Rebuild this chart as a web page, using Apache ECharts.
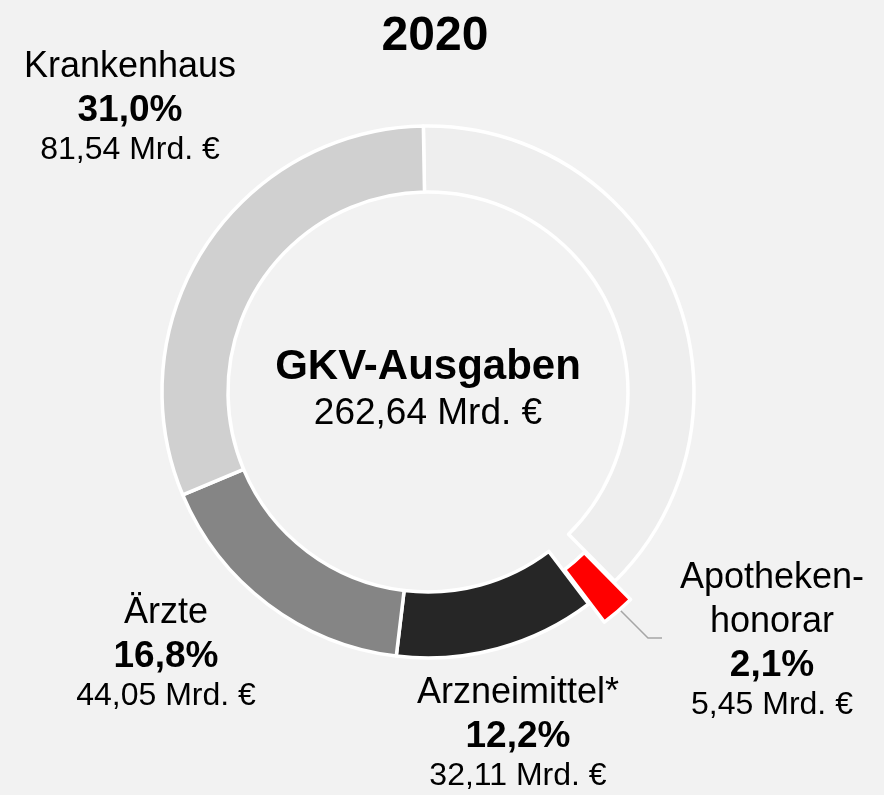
<!DOCTYPE html>
<html>
<head>
<meta charset="utf-8">
<script src="https://cdn.jsdelivr.net/npm/echarts@6/dist/echarts.min.js"></script>
<style>
  html, body { margin: 0; padding: 0; background: #f2f2f2; }
  #chart { width: 884px; height: 795px; }
</style>
</head>
<body>
<div id="chart"></div>
<script>
// GKV-Ausgaben 2020, Mrd. Euro
const categories = ['Sonstige', 'Apothekenhonorar', 'Arzneimittel*', 'Ärzte', 'Krankenhaus'];
const labelNames = ['', 'Apotheken-\nhonorar', 'Arzneimittel*', 'Ärzte', 'Krankenhaus'];
const amounts = [99.49, 5.45, 32.11, 44.05, 81.54];
const shares = ['', '2,1%', '12,2%', '16,8%', '31,0%'];
const amountLabels = ['', '5,45 Mrd. €', '32,11 Mrd. €', '44,05 Mrd. €', '81,54 Mrd. €'];
const totalLabel = '262,64 Mrd. €';
const year = '2020';

const colors = ['#eeeeee', '#ff0000', '#262626', '#858585', '#d0d0d0'];
const highlight = 1; // exploded slice

const cx = 428, cy = 392, rIn = 200, rOut = 266, startAngle = 91, explode = 24;

// label block positions (x = centre, y = top)
const labelPos = [null, [772, 556], [518, 671], [166, 591], [130, 45]];

// mid angle of a slice, from the data
function midAngle(i) {
  const total = amounts.reduce((a, b) => a + b, 0);
  let before = 0;
  for (let k = 0; k < i; k++) before += amounts[k];
  const deg = startAngle - (before + amounts[i] / 2) / total * 360;
  return deg * Math.PI / 180;
}

const font = "'Liberation Sans', Arial, sans-serif";
const hidden = { color: 'rgba(0,0,0,0)', borderWidth: 0 };

const labelOpt = {
  position: 'outside',
  color: '#000',
  fontFamily: font,
  formatter: p => '{n|' + labelNames[p.dataIndex].split('\n').join('}\n{n|') + '}\n{p|' +
    shares[p.dataIndex] + '}\n{v|' + amountLabels[p.dataIndex] + '}',
  rich: {
    n: { fontFamily: font, fontSize: 36, lineHeight: 44, color: '#000', align: 'center' },
    p: { fontFamily: font, fontSize: 37, fontWeight: 'bold', lineHeight: 43, color: '#000', align: 'center' },
    v: { fontFamily: font, fontSize: 32, lineHeight: 37, color: '#000', align: 'center' }
  }
};

function layoutLabel(params) {
  const pos = labelPos[params.dataIndex];
  if (!pos) return {};
  const out = { x: pos[0], y: pos[1], align: 'center', verticalAlign: 'top' };
  if (params.dataIndex === highlight) {
    const a = midAngle(highlight);
    const r = (rIn + rOut) / 2 + explode;
    out.labelLinePoints = [[cx + Math.cos(a) * r, cy - Math.sin(a) * r], [648, 638], [662, 638]];
  }
  return out;
}

// ring without the exploded slice
const ringData = categories.map((c, i) => ({
  name: c,
  value: amounts[i],
  itemStyle: i === highlight ? hidden : { color: colors[i] },
  label: { show: i !== 0 && i !== highlight },
  labelLine: { show: false }
}));

// exploded slice only
const explodeData = categories.map((c, i) => ({
  name: c,
  value: amounts[i],
  itemStyle: i === highlight ? { color: colors[i] } : hidden,
  label: { show: i === highlight },
  labelLine: { show: i === highlight }
}));

const ma = midAngle(highlight);

const chart = echarts.init(document.getElementById('chart'));
chart.setOption({
  backgroundColor: '#f2f2f2',
  animation: false,
  title: {
    text: year,
    left: 430,
    top: 8,
    textAlign: 'center',
    textStyle: { fontFamily: font, fontSize: 48, fontWeight: 'bold', color: '#000' }
  },
  graphic: [
    {
      type: 'text',
      style: {
        x: cx, y: 367, text: 'GKV-Ausgaben', align: 'center', verticalAlign: 'middle',
        font: 'bold 42px ' + font, fill: '#000'
      }
    },
    {
      type: 'text',
      style: {
        x: cx, y: 414, text: totalLabel, align: 'center', verticalAlign: 'middle',
        font: '37px ' + font, fill: '#000'
      }
    }
  ],
  series: [
    {
      type: 'pie',
      center: [cx, cy],
      radius: [rIn, rOut],
      startAngle: startAngle,
      clockwise: true,
      avoidLabelOverlap: false,
      emphasis: { disabled: true },
      itemStyle: { borderColor: '#ffffff', borderWidth: 3.5 },
      label: labelOpt,
      labelLayout: layoutLabel,
      data: ringData
    },
    {
      type: 'pie',
      center: [cx + Math.cos(ma) * explode, cy - Math.sin(ma) * explode],
      radius: [rIn, rOut],
      startAngle: startAngle,
      clockwise: true,
      avoidLabelOverlap: false,
      silent: true,
      emphasis: { disabled: true },
      itemStyle: { borderColor: '#ffffff', borderWidth: 3.5 },
      label: labelOpt,
      labelLine: { showAbove: true, lineStyle: { color: '#a6a6a6', width: 1.5 } },
      labelLayout: layoutLabel,
      data: explodeData
    }
  ]
});
</script>
</body>
</html>
